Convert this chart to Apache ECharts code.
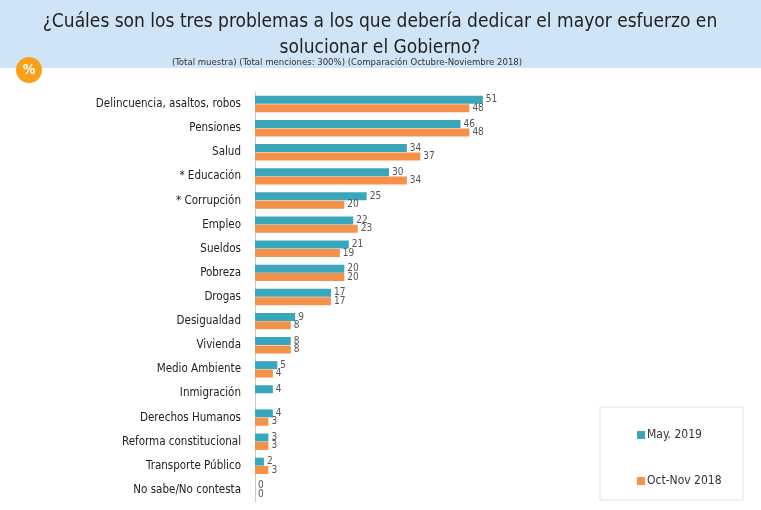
<!DOCTYPE html>
<html><head><meta charset="utf-8">
<script src="https://cdn.jsdelivr.net/npm/echarts@6/dist/echarts.min.js"></script>
<style>html,body{margin:0;padding:0;background:#fff}#c{width:761px;height:510px}</style>
</head><body><div id="c"></div>
<script>
var categories = ['Delincuencia, asaltos, robos','Pensiones','Salud','* Educación','* Corrupción','Empleo','Sueldos','Pobreza','Drogas','Desigualdad','Vivienda','Medio Ambiente','Inmigración','Derechos Humanos','Reforma constitucional','Transporte Público','No sabe/No contesta'];
var may2019 = [51,46,34,30,25,22,21,20,17,9,8,5,4,4,3,2,0];
var octNov2018 = [48,48,37,34,20,23,19,20,17,8,8,4,null,3,3,3,0];

var chart = echarts.init(document.getElementById('c'));
var font = '"DejaVu Sans Condensed", "DejaVu Sans", sans-serif';
var lbl = {show: true, position: 'right', distance: 3, fontSize: 10, color: '#555', fontFamily: font};
chart.setOption({
  animation: false,
  graphic: [
    {type: 'rect', shape: {x: 0, y: 0, width: 761, height: 68}, style: {fill: '#cfe4f6'}},
    {type: 'text', x: 380, y: 9, style: {text: '¿Cuáles son los tres problemas a los que debería dedicar el mayor esfuerzo en\nsolucionar el Gobierno?', align: 'center', fontSize: 19, lineHeight: 26, fill: '#222', fontFamily: font}},
    {type: 'text', x: 347, y: 58, style: {text: '(Total muestra) (Total menciones: 300%) (Comparación Octubre-Noviembre 2018)', align: 'center', fontSize: 9.5, fill: '#333', fontFamily: font}},
    {type: 'circle', shape: {cx: 29, cy: 70, r: 13}, style: {fill: '#f7a11a'}},
    {type: 'text', x: 29, y: 70, style: {text: '%', align: 'center', verticalAlign: 'middle', fontSize: 14, fontWeight: 'bold', fill: '#fff', fontFamily: font}},
    {type: 'rect', shape: {x: 600, y: 407, width: 143, height: 93}, style: {fill: 'none', stroke: '#d6e6f2', lineWidth: 1}}
  ],
  legend: {
    orient: 'vertical', left: 632, top: 424, itemGap: 34, itemWidth: 8, itemHeight: 8, icon: 'rect',
    textStyle: {fontSize: 12, color: '#333', fontFamily: font, padding: [0, 0, 0, -3]},
    data: ['May. 2019', 'Oct-Nov 2018']
  },
  grid: {left: 255, top: 92, bottom: 8, width: 268, containLabel: false},
  xAxis: {type: 'value', min: 0, max: 60, show: false},
  yAxis: {
    type: 'category', inverse: true, data: categories,
    axisLine: {show: true, lineStyle: {color: '#ccc'}},
    axisTick: {show: false},
    axisLabel: {fontSize: 11.5, color: '#222', fontFamily: font, margin: 14}
  },
  series: [
    {name: 'May. 2019', type: 'bar', data: may2019, barWidth: 8, barGap: '5%', itemStyle: {color: '#3aa6bb'}, label: lbl},
    {name: 'Oct-Nov 2018', type: 'bar', data: octNov2018, barWidth: 8, itemStyle: {color: '#f5924a'}, label: lbl}
  ]
});
</script></body></html>
